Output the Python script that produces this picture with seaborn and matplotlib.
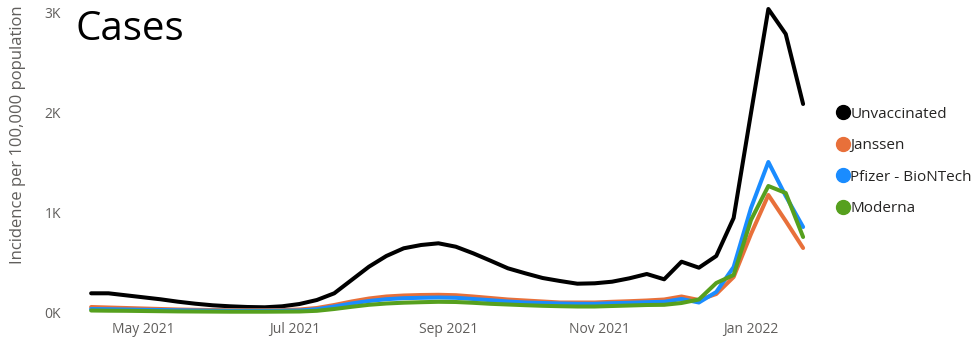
import pandas as pd
import matplotlib.pyplot as plt
import matplotlib.dates as mdates
import seaborn as sns
from matplotlib.lines import Line2D
from matplotlib.ticker import FuncFormatter

# weekly incidence per 100,000 (weeks ending Saturday)
weeks = pd.date_range("2021-04-10", periods=42, freq="7D")

unvaccinated = [197, 197, 177, 157, 137, 113, 93, 77, 67, 60,
                57, 67, 90, 130, 197, 330, 463, 570, 647, 680,
                697, 663, 597, 523, 447, 397, 350, 320, 293, 297,
                313, 347, 390, 337, 513, 453, 570, 950, 2000, 3040,
                2790, 2090]
janssen = [60, 55, 50, 45, 40, 35, 32, 30, 28, 28,
           28, 30, 35, 50, 80, 115, 145, 165, 175, 180,
           182, 178, 165, 150, 135, 125, 115, 105, 105, 105,
           112, 118, 125, 135, 165, 130, 190, 360, 790, 1180,
           920, 650]
pfizer = [40, 38, 35, 32, 30, 27, 25, 23, 22, 22,
          22, 23, 25, 38, 65, 95, 120, 138, 148, 152,
          155, 152, 140, 128, 115, 105, 100, 95, 92, 92,
          98, 102, 108, 112, 140, 105, 210, 460, 1050, 1510,
          1170, 860]
moderna = [25, 23, 22, 20, 18, 16, 15, 14, 13, 13,
           13, 14, 15, 22, 40, 62, 82, 95, 103, 108,
           112, 110, 102, 92, 85, 78, 72, 68, 65, 65,
           70, 75, 80, 82, 100, 135, 300, 380, 930, 1270,
           1200, 760]

groups = ["Unvaccinated", "Janssen", "Pfizer - BioNTech", "Moderna"]
colors = ["#000000", "#E8703A", "#1A8CFF", "#56A01E"]

df = pd.concat([
    pd.DataFrame({"week": weeks, "value": vals, "group": name})
    for name, vals in zip(groups, [unvaccinated, janssen, pfizer, moderna])
])

sns.set_theme(style="white")
plt.rcParams["font.family"] = ["Open Sans", "DejaVu Sans"]

fig = plt.figure(figsize=(9.77, 3.37), dpi=100)
ax = fig.add_axes([75 / 977, (337 - 318) / 337, 740 / 977, 313 / 337])

sns.lineplot(data=df, x="week", y="value", hue="group", hue_order=groups,
             palette=colors, linewidth=2.9, legend=False, ax=ax)

ax.set_xlim(weeks[0] - pd.Timedelta(days=6.5), weeks[-1] + pd.Timedelta(days=4.8))
ax.set_ylim(-50, 3080)
ax.set_yticks([0, 1000, 2000, 3000])
ax.yaxis.set_major_formatter(FuncFormatter(lambda v, p: f"{int(v / 1000)}K"))
ax.set_xticks(pd.to_datetime(["2021-05-01", "2021-07-01", "2021-09-01",
                              "2021-11-01", "2022-01-01"]))
ax.xaxis.set_major_formatter(mdates.DateFormatter("%b %Y"))
ax.tick_params(axis="both", length=0, labelsize=10, colors="#605E5C")
ax.tick_params(axis="y", pad=10)
ax.tick_params(axis="x", pad=3)
ax.set_xlabel("")
ax.set_ylabel("")
sns.despine(ax=ax, left=True, bottom=True)

fig.text(18 / 977, (337 - 264) / 337, "Incidence per 100,000 population",
         rotation=90, ha="center", va="bottom", fontsize=12, color="#605E5C")
fig.text(75 / 977, (337 - 40) / 337, "Cases", fontsize=29, color="black",
         va="baseline")

handles = [Line2D([], [], color=c, marker="o", linestyle="", markersize=10)
           for c in colors]
fig.legend(handles, groups, loc="upper left", bbox_to_anchor=(828 / 977, (337 - 99) / 337),
           frameon=False, fontsize=11, handlelength=0.9, handletextpad=0.05,
           labelspacing=1.08, borderpad=0, labelcolor="#252423")

fig.savefig("out.png", dpi=100)
